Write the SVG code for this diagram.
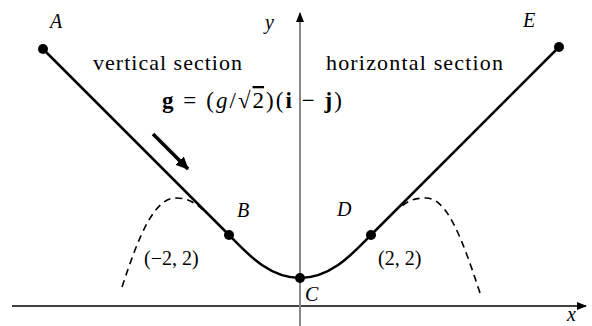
<svg xmlns="http://www.w3.org/2000/svg" width="592" height="326" viewBox="0 0 592 326" font-family="Liberation Serif, Tinos, Times New Roman, Times, DejaVu Serif, serif">
<style>
.t{font-size:22px}
.f{font-size:23px}
.l{font-size:20px;font-style:italic}
.c{font-size:20px}
.path{fill:none;stroke:#000;stroke-width:2.5}
.dash{fill:none;stroke:#000;stroke-width:1.6;stroke-dasharray:7,5}
</style>
<defs>
<marker id="ah" markerWidth="10" markerHeight="10" refX="9" refY="5" orient="auto" markerUnits="userSpaceOnUse">
<path d="M0,1 L10,5 L0,9 z" fill="#000"/>
</marker>
<marker id="ah2" markerWidth="14" markerHeight="14" refX="12" refY="7" orient="auto" markerUnits="userSpaceOnUse">
<path d="M0,1 L13,7 L0,13 z" fill="#000"/>
</marker>
</defs>
<g id="axes">
<line x1="12" y1="306" x2="586" y2="306" stroke="#000" stroke-width="1.3" marker-end="url(#ah)"/>
<line x1="300" y1="326" x2="300" y2="13" stroke="#888" stroke-width="2"/>
<path d="M300,12 L304,22 L296,22 z" fill="#000"/>
<text class="l" x="265" y="29">y</text>
<text class="l" x="567" y="321">x</text>
</g>
<g id="connectors">
<path class="path" d="M43,49 L229,235 C246,252 268,278 300,278 C332,278 354,252 371,235 L559,47"/>
<path class="dash" d="M122,287 C140,232 155,198 176,198 C188,198 197,204 203,210"/>
<path class="dash" d="M480,293 C462,238 447,198 426,198 C414,198 408,201 402,206"/>
<line x1="153" y1="134" x2="188" y2="169" stroke="#000" stroke-width="3.5" marker-end="url(#ah2)"/>
</g>
<g id="A"><circle cx="43" cy="49" r="5"/><text class="l" x="50" y="28">A</text></g>
<g id="B"><circle cx="229" cy="235" r="5"/><text class="l" x="237" y="217">B</text></g>
<g id="C"><circle cx="300" cy="278" r="5"/><text class="l" x="305" y="301">C</text></g>
<g id="D"><circle cx="371" cy="235" r="5"/><text class="l" x="337" y="216">D</text></g>
<g id="E"><circle cx="559" cy="47" r="5"/><text class="l" x="523" y="27">E</text></g>
<g id="labels">
<text class="t" x="93" y="70" textLength="149" lengthAdjust="spacing">vertical section</text>
<text class="t" x="326" y="70" textLength="177" lengthAdjust="spacing">horizontal section</text>
<text class="f" x="162" y="108" textLength="180" lengthAdjust="spacing"><tspan font-weight="bold">g</tspan> = (<tspan font-style="italic">g</tspan>/√<tspan text-decoration="overline">2</tspan>)(<tspan font-weight="bold">i</tspan> − <tspan font-weight="bold">j</tspan>)</text>
<text class="c" x="144" y="265">(−2, 2)</text>
<text class="c" x="378" y="265">(2, 2)</text>
</g>
</svg>
